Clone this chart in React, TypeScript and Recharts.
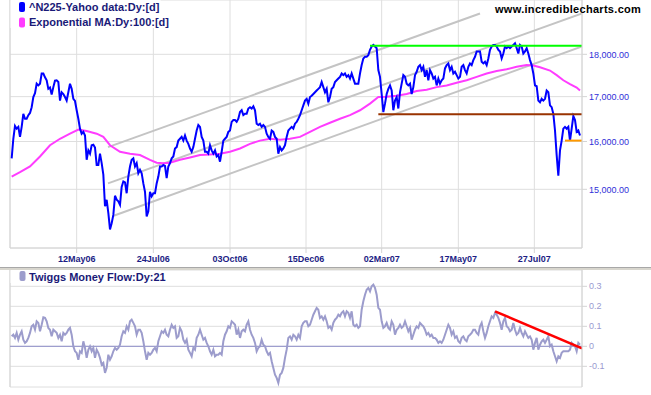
import React from 'react';
import { LineChart, Line, XAxis, YAxis, CartesianGrid, ReferenceLine } from 'recharts';

// x axis: trading-session index (one sample per session step)
const sessionDomain: [number, number] = [-1, 342.2];
const dateTicks = [39, 85, 131, 176.6, 222, 268, 313.6];
const dateLabels = ['12May06', '24Jul06', '03Oct06', '15Dec06', '02Mar07', '17May07', '27Jul07'];

const priceTicks = [15000, 16000, 17000, 18000];
const priceDomain: [number, number] = [13857, 19370];
const tmfTicks = [-0.1, 0, 0.1, 0.2, 0.3];
const tmfDomain: [number, number] = [-0.2035, 0.3815];

// ^N225 close
const closes = [
  15640, 16060, 16340, 16280, 16320, 16100, 16320, 16610, 16500, 16500,
  16580, 16630, 16760, 16990, 17080, 17300, 17260, 17300, 17540, 17540,
  17450, 17380, 17180, 17210, 17050, 17220, 17370, 17380, 17340, 16910,
  17100, 17060, 16990, 16910, 17100, 17300, 17180, 16950, 16900, 16690,
  16500, 16280, 16170, 16210, 16130, 15610, 15810, 15740, 15920, 15930,
  15870, 15500, 15500, 15740, 15540, 15300, 14660, 14790, 14530, 14210,
  14330, 14490, 14870, 14790, 14760, 14690, 15050, 15160, 15140, 14920,
  15260, 15470, 15610, 15640, 15470, 15540, 15330, 15400, 15330, 15120,
  14950, 14460, 14560, 14950, 14860, 14920, 14920, 15120, 15260, 15470,
  15470, 15500, 15480, 15230, 15470, 15540, 15640, 15680, 15850, 15880,
  16020, 16060, 16100, 16020, 16130, 16020, 15950, 15850, 15780, 15880,
  16060, 16240, 16360, 16320, 16100, 16020, 15780, 15780, 15740, 15920,
  15810, 15740, 15810, 15680, 15710, 15570, 15780, 16020, 16060, 16100,
  16210, 16240, 16430, 16470, 16470, 16430, 16500, 16650, 16690, 16580,
  16610, 16610, 16730, 16760, 16730, 16780, 16690, 16390, 16360, 16390,
  16320, 16360, 16320, 16170, 16100, 16060, 16240, 16210, 16100, 16060,
  15740, 15880, 15810, 15850, 15920, 16100, 16240, 16280, 16320, 16280,
  16390, 16430, 16500, 16580, 16690, 16800, 16910, 16950, 16840, 16990,
  17020, 17060, 17100, 17140, 17180, 17220, 17340, 17220, 17100, 17180,
  16870, 16990,
  17180, 17220, 17340, 17380, 17420, 17460, 17540, 17500, 17540, 17460,
  17500, 17420, 17540, 17420, 17300, 17300, 17300, 17540, 17740, 17900,
  17940, 17940, 17980, 18110, 18190, 18230, 18190, 18150, 17620, 17460,
  17060, 16650, 16840, 17060, 17180, 17260, 17140, 16690, 16910, 16990,
  16730, 17100, 17300, 17500, 17460, 17300, 17260, 17300, 17060, 17220,
  17500, 17580, 17700, 17740, 17620, 17700, 17460, 17620, 17380, 17620,
  17540, 17420, 17460, 17260, 17420, 17300, 17380, 17420, 17660, 17740,
  17780, 17620, 17700, 17540, 17580, 17500, 17420, 17460, 17700, 17740,
  17620, 17540, 17700, 17780, 17740, 17860, 17940, 18070, 18070, 18070,
  17820, 17780, 17820, 17740, 17900, 18110, 18190, 18230, 18230, 18190,
  18110, 18070, 17900, 18020, 18190, 18150, 18190, 18150, 18190, 18230,
  18270, 18150, 18020, 18230, 18190, 18020, 18070, 18150, 18020, 17860,
  17740, 17540, 17260, 17240, 16910, 16870, 16950, 16910, 16950, 17140,
  17100, 16800, 16760, 16610, 16240, 15710, 15280, 15810, 16020, 16280,
  16320, 16280, 16320, 16020, 16280, 16560, 16470, 16210, 16240, 16130,
];

// Exponential MA 100 (sampled sessions)
const emaSessions = [
  0, 5, 11, 17, 23, 29, 35, 40, 45, 51, 55, 59, 65, 71, 77, 83, 87, 91, 95, 101,
  107, 113, 119, 125, 131, 137, 143, 149, 155, 161, 167, 173, 179, 185, 191, 197,
  203, 209, 215, 220, 225, 231, 237, 243, 249, 255, 261, 267, 273, 279, 285, 291,
  297, 303, 309, 313, 317, 323, 327, 331, 335, 339, 341,
];
const emaValues = [
  15260, 15350, 15470, 15680, 15920, 16060, 16170, 16260, 16230, 16170, 16100, 15920,
  15780, 15740, 15710, 15610, 15550, 15540, 15550, 15610, 15660, 15710, 15720, 15740,
  15780, 15850, 15950, 16020, 16060, 16040, 16060, 16100, 16210, 16320, 16410, 16500,
  16580, 16690, 16840, 16990, 17000, 17020, 17060, 17130, 17160, 17220, 17260, 17320,
  17380, 17460, 17540, 17600, 17640, 17700, 17740, 17730, 17690, 17610, 17500, 17380,
  17290, 17210, 17140,
];

// Trend channel (start/end session, start/end value)
const channelUpper = { s: [57.8, 281], v: [15880, 19020] };
const channelMiddle = { s: [57.8, 342.2], v: [15120, 19020] };
const channelLower = { s: [60.8, 342.2], v: [14470, 18190] };

// Horizontal levels
const resistanceLevel = { s: [215, 342.2], v: 18210 };
const supportLevel = { s: [220, 342.2], v: 16600 };
const lowLevel = { s: [332, 342.2], v: 16020 };

// Twiggs Money Flow 21
const tmf = [
  0.05, 0.058, 0.042, 0.067, 0.033, 0.058, 0.075, 0.033, 0.017, 0.025,
  0.042, 0.067, 0.1, 0.108, 0.083, 0.125, 0.117, 0.075, 0.108, 0.145,
  0.142, 0.125, 0.092, 0.083, 0.05, 0.083, 0.075, 0.067, 0.042, 0.058,
  0.025, 0.067, 0.058, 0.067, 0.083, 0.092, 0.058, 0, -0.025, -0.033,
  -0.067, -0.025, -0.033, 0.025, -0.008, -0.058, -0.017, 0, -0.025, -0.008,
  -0.058, -0.017, -0.033, -0.058, -0.092, -0.083, -0.133, -0.108, -0.042, -0.067,
  -0.05, -0.025, -0.008, -0.017, -0.008, 0.008, 0.05, 0.075, 0.067, 0.1,
  0.083, 0.125, 0.133, 0.117, 0.1, 0.058, 0.083, 0.083, 0.067, 0.025,
  -0.025, -0.067, -0.033, -0.042, -0.033, -0.017, -0.008, -0.025, 0.025, 0.05,
  0.075, 0.067, 0.083, 0.058, 0.05, 0.083, 0.108, 0.092, 0.1, 0.042,
  0.05, 0.092, 0.075, 0.033, 0.017, 0.033, -0.017, -0.033, -0.05, -0.008,
  -0.017, 0.042, 0.058, 0.083, 0.058, 0.033, 0.042, 0.017, 0, -0.025,
  -0.042, -0.017, -0.05, -0.042, -0.042, -0.033, -0.042, 0.025, 0.058, 0.075,
  0.1, 0.092, 0.125, 0.117, 0.108, 0.058, 0.083, 0.042, 0.075, 0.083,
  0.075, 0.108, 0.125, 0.083, 0.058, 0.042, 0.017, -0.025, -0.008, 0,
  0.033, 0.008, 0, -0.025, -0.042, -0.033, -0.075, -0.108, -0.142, -0.158,
  -0.183, -0.142, -0.133, -0.108, -0.058, -0.017, 0.042, 0.05, 0.033, 0.058,
  0.05, 0.033, 0.058, 0.042, 0.1, 0.117, 0.125, 0.125, 0.1, 0.108,
  0.133, 0.158, 0.175, 0.192, 0.183, 0.142, 0.15, 0.133, 0.15, 0.125,
  0.092, 0.1,
  0.083, 0.117, 0.133, 0.142, 0.158, 0.15, 0.167, 0.175, 0.15, 0.175,
  0.167, 0.142, 0.175, 0.108, 0.1, 0.108, 0.092, 0.1, 0.183, 0.225,
  0.258, 0.283, 0.292, 0.275, 0.3, 0.308, 0.292, 0.258, 0.192, 0.183,
  0.125, 0.092, 0.1, 0.117, 0.092, 0.083, 0.125, 0.108, 0.058, 0.083,
  0.092, 0.108, 0.092, 0.1, 0.125, 0.1, 0.075, 0.092, 0.033, 0.058,
  0.083, 0.1, 0.092, 0.117, 0.108, 0.1, 0.083, 0.058, 0.067, 0.05,
  0.058, 0.042, 0.042, 0.033, 0.017, 0.025, 0.017, 0.033, 0.058, 0.083,
  0.108, 0.092, 0.058, 0.075, 0.042, 0.05, 0.025, 0.017, 0.042, 0.05,
  0.033, 0.025, 0.05, 0.058, 0.067, 0.083, 0.083, 0.067, 0.058, 0.1,
  0.117, 0.075, 0.042, 0.067, 0.1, 0.125, 0.15, 0.142, 0.167, 0.158,
  0.142, 0.117, 0.083, 0.125, 0.142, 0.1, 0.092, 0.075, 0.083, 0.117,
  0.083, 0.058, 0.067, 0.092, 0.067, 0.05, 0.075, 0.058, 0.042, 0.05,
  0.033, -0.017, 0.017, 0.042, -0.017, 0.008, 0.025, 0.033, 0.017, 0.033,
  0.05, 0, 0.008, -0.025, -0.05, -0.075, -0.05, -0.058, -0.033, -0.025,
  -0.025, -0.025, -0.025, -0.017, 0.017, 0.008, 0, -0.025, 0.017, 0.008,
];
const tmfTrend = { s: [290, 342.2], v: [0.175, -0.01] };

const priceData = closes.map((v, i) => ({ k: i, v }));
const emaData = emaSessions.map((k, i) => ({ k, v: emaValues[i] }));
const seg = (c: { s: number[]; v: number[] }) => c.s.map((k, i) => ({ k, v: c.v[i] }));
const flat = (c: { s: number[]; v: number }) => c.s.map((k) => ({ k, v: c.v }));
const tmfData = tmf.map((v, i) => ({ k: i, v }));

const AXIS_FONT = "'Liberation Sans', Arial, sans-serif";
const LEGEND_FONT = "'Liberation Sans Narrow', 'Arial Narrow', 'Liberation Sans', sans-serif";
const GRID = '#dedede';
const BORDER = '#d4d4d4';

const DateTick = (props: any) => {
  const { x, y, payload } = props;
  const idx = dateTicks.indexOf(payload.value);
  return (
    <text x={x} y={y + 7} textAnchor="middle" fill="#1c1c84" fontSize={9} fontWeight="bold" fontFamily={AXIS_FONT}>
      {dateLabels[idx]}
    </text>
  );
};

const fmtPrice = (v: number) => v.toLocaleString('en-US', { minimumFractionDigits: 2, maximumFractionDigits: 2 });

export default function App() {
  const common = { dot: false, activeDot: false, isAnimationActive: false, type: 'linear' as const };
  return (
    <div style={{ position: 'absolute', left: 0, top: 0, width: 651, height: 395, background: '#fff', overflow: 'hidden' }}>
      <div style={{ position: 'absolute', left: 0, top: 0 }}>
        <LineChart width={651} height={266} data={priceData} margin={{ top: 0, right: 0, bottom: 0, left: 10 }}>
          <CartesianGrid stroke={GRID} strokeWidth={1} />
          <XAxis
            dataKey="k"
            type="number"
            domain={sessionDomain}
            allowDataOverflow
            ticks={dateTicks}
            interval={0}
            height={18}
            tick={<DateTick />}
            tickSize={5}
            tickMargin={2}
            tickLine={{ stroke: BORDER }}
            axisLine={{ stroke: BORDER }}
          />
          <YAxis
            orientation="right"
            scale="log"
            type="number"
            domain={priceDomain}
            allowDataOverflow
            ticks={priceTicks}
            interval={0}
            width={69}
            tickSize={5}
            tickMargin={2}
            tickLine={{ stroke: BORDER }}
            axisLine={{ stroke: BORDER }}
            tickFormatter={fmtPrice}
            tick={{ fill: '#3030d8', fontSize: 9, fontFamily: AXIS_FONT, textAnchor: 'start' }}
          />
          <ReferenceLine x={sessionDomain[0]} stroke={BORDER} />
          <Line {...common} data={seg(channelUpper)} dataKey="v" stroke="#c4c4c4" strokeWidth={2} />
          <Line {...common} data={seg(channelMiddle)} dataKey="v" stroke="#c4c4c4" strokeWidth={2} />
          <Line {...common} data={seg(channelLower)} dataKey="v" stroke="#c4c4c4" strokeWidth={2} />
          <Line {...common} data={emaData} dataKey="v" stroke="#ff3cff" strokeWidth={2} />
          <Line {...common} dataKey="v" stroke="#0000ff" strokeWidth={2} />
          <Line {...common} data={flat(resistanceLevel)} dataKey="v" stroke="#00ff00" strokeWidth={2} />
          <Line {...common} data={flat(supportLevel)} dataKey="v" stroke="#993300" strokeWidth={2} />
          <Line {...common} data={flat(lowLevel)} dataKey="v" stroke="#ff9900" strokeWidth={2} />
        </LineChart>
      </div>

      <div style={{ position: 'absolute', left: 0, top: 267, width: 651, height: 1, background: '#a8a8a8' }} />
      <div style={{ position: 'absolute', left: 0, top: 268, width: 651, height: 2, background: '#d8d6ce' }} />

      <div style={{ position: 'absolute', left: 0, top: 270 }}>
        <LineChart width={651} height={125} data={tmfData} margin={{ top: 0, right: 0, bottom: 8, left: 10 }}>
          <CartesianGrid stroke={GRID} strokeWidth={1} />
          <XAxis
            dataKey="k"
            type="number"
            domain={sessionDomain}
            allowDataOverflow
            ticks={dateTicks}
            interval={0}
            height={0}
            tick={false}
            tickLine={false}
            axisLine={{ stroke: BORDER }}
          />
          <YAxis
            orientation="right"
            type="number"
            domain={tmfDomain}
            allowDataOverflow
            ticks={tmfTicks}
            interval={0}
            width={69}
            tickSize={5}
            tickMargin={2}
            tickLine={{ stroke: BORDER }}
            axisLine={{ stroke: BORDER }}
            tickFormatter={(v: number) => String(v)}
            tick={{ fill: '#9a9ad0', fontSize: 9, fontFamily: AXIS_FONT, textAnchor: 'start' }}
          />
          <ReferenceLine x={sessionDomain[0]} stroke={BORDER} />
          <ReferenceLine y={0} stroke="#8c8cc8" strokeWidth={1} />
          <Line {...common} dataKey="v" stroke="#9c9ccc" strokeWidth={2} />
          <Line {...common} data={seg(tmfTrend)} dataKey="v" stroke="#ff0000" strokeWidth={2.5} />
        </LineChart>
      </div>

      <svg width={651} height={395} style={{ position: 'absolute', left: 0, top: 0, pointerEvents: 'none' }}>
        <rect x={10.5} y={0} width={150} height={28} fill="#fff" />
        <rect x={19} y={2} width={6} height={10} rx={2} fill="#0000ff" />
        <text x={29} y={11} fontSize={11} fontWeight="bold" fill="#1a1a78" fontFamily={LEGEND_FONT}>^N225-Yahoo data:Dy:[d]</text>
        <rect x={19} y={17.5} width={6} height={10} rx={2} fill="#ff3cff" />
        <text x={29} y={26} fontSize={11} fontWeight="bold" fill="#1a1a78" fontFamily={LEGEND_FONT}>Exponential MA:Dy:100:[d]</text>

        <rect x={10.5} y={270} width={150} height={13} fill="#fff" />
        <rect x={19.5} y={271} width={6} height={10} rx={2} fill="#9c9ccc" />
        <text x={29} y={281} fontSize={11} fontWeight="bold" fill="#1a1a78" fontFamily={LEGEND_FONT}>Twiggs Money Flow:Dy:21</text>

        <text x={495} y={12.5} fontSize={11} fontWeight="bold" fill="#000" letterSpacing={0.3} fontFamily={AXIS_FONT}>www.incrediblecharts.com</text>
      </svg>
    </div>
  );
}
